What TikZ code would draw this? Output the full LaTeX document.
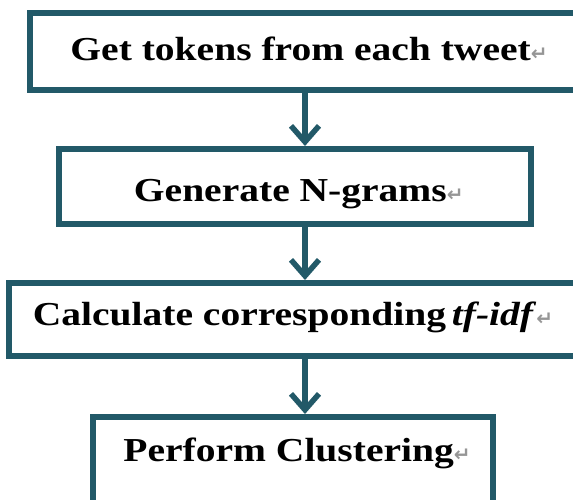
\documentclass[tikz,border=0pt]{standalone}
\usepackage{fontspec}
\setmainfont{Liberation Serif}[FakeStretch=1.18]
\newfontfamily\markfont{DejaVu Sans}
\usetikzlibrary{arrows.meta}
\definecolor{boxteal}{RGB}{34,89,104}
\definecolor{markgray}{RGB}{150,150,150}
\newcommand{\parmark}{{\markfont\fontsize{20}{20}\selectfont\color{markgray}\char"21B5}}
\begin{document}
\begin{tikzpicture}[x=1pt,y=-1pt,
  stepbox/.style={draw=boxteal, line width=6pt, fill=white, inner sep=0pt,
    text height=22pt, text depth=4pt, font=\fontsize{33.5}{40}\selectfont\bfseries},
  flow/.style={draw=boxteal, line width=5.5pt, -{Straight Barb[length=16pt,width=28pt]}}]
\useasboundingbox (0,0) rectangle (573,499);
\clip (0,0) rectangle (573,499);
\node[stepbox, minimum width=558pt, minimum height=76.5pt] (tokens) at (309,51.25) {Get tokens from each tweet\parmark};
\node[stepbox, minimum width=471.5pt, minimum height=75pt, text height=30pt, text depth=0pt] (ngrams) at (294.75,186.5) {\hspace{8pt}Generate N-grams\parmark};
\node[stepbox, minimum width=569pt, minimum height=73pt, text depth=11pt] (tfidf) at (293,319.5) {Calculate corresponding\hspace{-4pt} \textit{tf-idf}\parmark};
\node[stepbox, minimum width=400pt, minimum height=93pt, text depth=27pt] (cluster) at (293,463.5) {\hspace{8pt}Perform Clustering\parmark};
\coordinate (axis) at (305,0);
\draw[flow] (tokens.south -| axis) -- (ngrams.north -| axis);
\draw[flow] (ngrams.south -| axis) -- (tfidf.north -| axis);
\draw[flow] (tfidf.south -| axis) -- (cluster.north -| axis);
\end{tikzpicture}
\end{document}
